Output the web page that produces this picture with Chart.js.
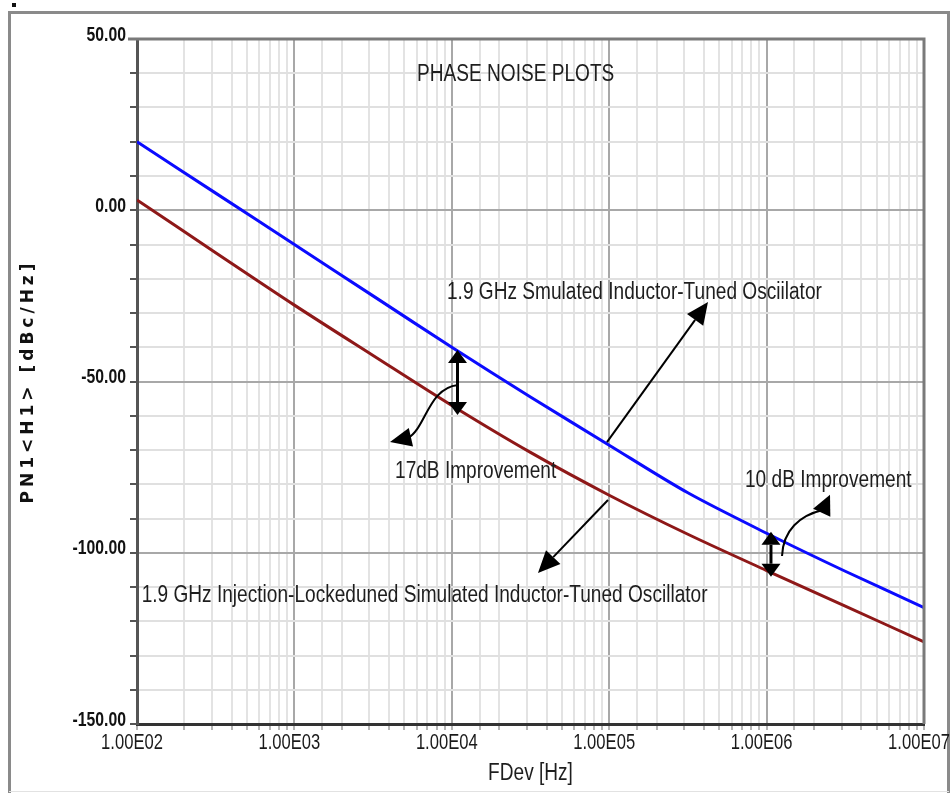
<!DOCTYPE html>
<html><head><meta charset="utf-8">
<script src="https://cdn.jsdelivr.net/npm/chart.js@4.4.1/dist/chart.umd.min.js"></script>
<style>html,body{margin:0;padding:0;background:#fff;}#wrap{width:952px;height:793px;position:relative;}</style>
</head><body><div id="wrap"><canvas id="c" width="952" height="793"></canvas></div>
<script>
// ---- data ----
const freqHz = [1e2, 3.16e2, 1e3, 3.16e3, 1e4, 3.16e4, 1e5, 3.16e5, 1e6, 3.16e6, 1e7];
const pnSimulated = [20, 5, -10, -25, -40, -54.5, -68.6, -82.5, -94.3, -105.4, -116];
const pnInjectionLocked = [3, -12.4, -27.7, -42.4, -57, -70.7, -83.2, -94.6, -105.2, -115.6, -126];
const xDecadeExps = [2, 3, 4, 5, 6, 7];
const xTickLabels = ['1.00E02', '1.00E03', '1.00E04', '1.00E05', '1.00E06', '1.00E07'];
const yMajorValues = [50, 0, -50, -100, -150];
const yTickLabels = ['50.00', '0.00', '-50.00', '-100.00', '-150.00'];
const chartTitle = 'PHASE NOISE PLOTS';
const xTitle = 'FDev [Hz]';
const yTitle = 'PN1<H1> [dBc/Hz]';

// annotations, placed in data units (Hz, dBc/Hz)
const noteTexts = [
  {text: chartTitle, x: 6010, y: 39.8},
  {text: '1.9 GHz Smulated Inductor-Tuned Osciilator', x: 9322, y: -23.9},
  {text: '17dB Improvement', x: 4357, y: -76.3},
  {text: '10 dB Improvement', x: 7.29e5, y: -78.8},
  {text: '1.9 GHz Injection-Lockeduned Simulated Inductor-Tuned Oscillator', x: 107, y: -112.3}
];
const doubleArrows = [
  {x: 1.087e4, yTop: -40.8, yBottom: -59.8},
  {x: 1.066e6, yTop: -93.9, yBottom: -107.0}
];
const straightArrows = [
  {from: [9.68e4, -67.7], to: [4.243e5, -26.8]},
  {from: [9.827e4, -84.6], to: [3.528e4, -105.9]}
];
const curvedArrows = [
  {pts: [[1.095e4, -51.0], [7062, -51.9], [6857, -63.6], [5268, -66.5]], tip: [4050, -67.7]},
  {pts: [[1.253e6, -100.95], [1.271e6, -93.4], [1.630e6, -89.0], [2.282e6, -87.5]], tip: [2.528e6, -83.1]}
];

// narrow text: Liberation Sans drawn horizontally condensed (Arial-Narrow look)
const NARROW = '"Liberation Sans", Arial, sans-serif';
const SQUEEZE_X = 0.83, STRETCH_Y = 1.08;
const origFillText = CanvasRenderingContext2D.prototype.fillText;
let squeeze = null;
CanvasRenderingContext2D.prototype.fillText = function (t, x, y, mw) {
  if (!squeeze) return mw === undefined ? origFillText.call(this, t, x, y) : origFillText.call(this, t, x, y, mw);
  this.save();
  this.translate(x, y);
  this.scale(squeeze[0], squeeze[1]);
  origFillText.call(this, t, 0, 0);
  this.restore();
};

const isDecade = v => Math.abs(Math.log10(v) - Math.round(Math.log10(v))) < 1e-6;

function head(ctx, tip, from, len, wid) {
  const dx = tip.x - from.x, dy = tip.y - from.y, d = Math.hypot(dx, dy);
  const ux = dx / d, uy = dy / d;
  const bx = tip.x - ux * len, by = tip.y - uy * len;
  ctx.beginPath();
  ctx.moveTo(tip.x, tip.y);
  ctx.lineTo(bx - uy * wid / 2, by + ux * wid / 2);
  ctx.lineTo(bx + uy * wid / 2, by - ux * wid / 2);
  ctx.closePath();
  ctx.fill();
  return {x: bx, y: by};
}

const decorPlugin = {
  id: 'decor',
  beforeDraw(chart) {
    const ctx = chart.ctx;
    ctx.save();
    ctx.fillStyle = '#fff';
    ctx.fillRect(0, 0, chart.width, chart.height);
    ctx.strokeStyle = '#8a8a8a';
    ctx.lineWidth = 3;
    ctx.beginPath();
    ctx.moveTo(9.5, 793); ctx.lineTo(9.5, 12.5); ctx.lineTo(948.5, 12.5); ctx.lineTo(948.5, 793);
    ctx.stroke();
    ctx.strokeStyle = '#e2e2e2'; ctx.lineWidth = 1;
    ctx.beginPath(); ctx.moveTo(9, 791.5); ctx.lineTo(949, 791.5); ctx.stroke();
    ctx.fillStyle = '#111';
    ctx.fillRect(12, 3, 4, 4);
    ctx.restore();
    squeeze = [SQUEEZE_X, STRETCH_Y];   // condensed tick labels
  },
  beforeDatasetsDraw() { squeeze = null; },
  afterDatasetsDraw(chart) {
    const ctx = chart.ctx, a = chart.chartArea;
    ctx.save();
    ctx.strokeStyle = '#7a7a7a';
    ctx.lineWidth = 3;
    ctx.beginPath();
    ctx.moveTo(a.left - 9, a.top); ctx.lineTo(a.right, a.top); ctx.lineTo(a.right, a.bottom);
    ctx.stroke();
    ctx.restore();
  },
  afterDraw(chart) {
    const ctx = chart.ctx, xs = chart.scales.x, ys = chart.scales.y;
    const P = (x, y) => ({x: xs.getPixelForValue(x), y: ys.getPixelForValue(y)});
    ctx.save();
    // annotation texts
    squeeze = [SQUEEZE_X, STRETCH_Y];
    ctx.fillStyle = '#1e1e1e';
    ctx.font = '23px ' + NARROW;
    ctx.textBaseline = 'middle';
    ctx.textAlign = 'left';
    noteTexts.forEach(n => {
      const p = P(n.x, n.y);
      ctx.fillText(n.text, p.x, p.y);
    });
    // x axis title
    ctx.textAlign = 'center';
    ctx.fillText(xTitle, (chart.chartArea.left + chart.chartArea.right) / 2, 773);
    squeeze = null;
    // arrows
    ctx.strokeStyle = '#000';
    ctx.fillStyle = '#000';
    doubleArrows.forEach(d => {
      const t = P(d.x, d.yTop), b = P(d.x, d.yBottom);
      const tb = head(ctx, t, b, 13, 19);
      const bb = head(ctx, b, t, 13, 19);
      ctx.lineWidth = 3;
      ctx.beginPath(); ctx.moveTo(tb.x, tb.y); ctx.lineTo(bb.x, bb.y); ctx.stroke();
    });
    straightArrows.forEach(s => {
      const f = P(s.from[0], s.from[1]), t = P(s.to[0], s.to[1]);
      const hb = head(ctx, t, f, 22, 20);
      ctx.lineWidth = 2;
      ctx.beginPath(); ctx.moveTo(f.x, f.y); ctx.lineTo(hb.x, hb.y); ctx.stroke();
    });
    curvedArrows.forEach(c => {
      const q = c.pts.map(p => P(p[0], p[1]));
      const t = P(c.tip[0], c.tip[1]);
      ctx.lineWidth = 2;
      ctx.beginPath();
      ctx.moveTo(q[0].x, q[0].y);
      ctx.bezierCurveTo(q[1].x, q[1].y, q[2].x, q[2].y, q[3].x, q[3].y);
      ctx.stroke();
      const L = Math.hypot(t.x - q[3].x, t.y - q[3].y) + 3;
      head(ctx, t, q[3], L, 19);
    });
    // y axis title (letter-spaced, bold)
    ctx.save();
    ctx.translate(29, (chart.chartArea.top + chart.chartArea.bottom) / 2);
    ctx.rotate(-Math.PI / 2);
    ctx.font = 'bold 17px "DejaVu Sans", sans-serif';
    try { ctx.letterSpacing = '4px'; } catch (e) {}
    ctx.textAlign = 'center';
    ctx.textBaseline = 'middle';
    ctx.fillStyle = '#111';
    ctx.fillText(yTitle, 0, 0);
    ctx.restore();
    ctx.restore();
  }
};

new Chart(document.getElementById('c').getContext('2d'), {
  type: 'line',
  data: {
    datasets: [
      {label: 'Simulated Inductor-Tuned Oscillator', data: freqHz.map((f, i) => ({x: f, y: pnSimulated[i]})),
       borderColor: '#0b0bff', borderWidth: 3, pointRadius: 0, tension: 0.3, fill: false},
      {label: 'Injection-Locked Oscillator', data: freqHz.map((f, i) => ({x: f, y: pnInjectionLocked[i]})),
       borderColor: '#8e1818', borderWidth: 3, pointRadius: 0, tension: 0.3, fill: false}
    ]
  },
  options: {
    responsive: false,
    animation: false,
    layout: {padding: {left: 0, top: 39, right: 28, bottom: 0}},
    plugins: {legend: {display: false}, tooltip: {enabled: false}, title: {display: false}},
    scales: {
      x: {
        type: 'logarithmic', min: 100, max: 1e7,
        afterFit(s) { s.height = 69; s.paddingLeft = 0; s.paddingRight = 0; },
        border: {color: '#333', width: 3},
        grid: {color: c => (c.tick && isDecade(c.tick.value)) ? '#a8a8a8' : '#e3e3e3', lineWidth: 2, tickLength: 6, tickColor: '#b5b5b5'},
        ticks: {
          autoSkip: false, maxRotation: 0, minRotation: 0, labelOffset: -5, padding: 1, color: '#1a1a1a',
          font: {family: NARROW, size: 20},
          callback: v => {
            if (!isDecade(v)) return '';
            const i = xDecadeExps.indexOf(Math.round(Math.log10(v)));
            return i >= 0 ? xTickLabels[i] : '';
          }
        }
      },
      y: {
        min: -150, max: 50,
        afterFit(s) { s.width = 137; s.paddingTop = 0; s.paddingBottom = 0; },
        border: {color: '#555', width: 3},
        grid: {color: c => (c.tick && c.tick.value % 50 === 0) ? '#a8a8a8' : '#e0e0e0', lineWidth: 2, tickLength: 7, tickColor: '#555'},
        ticks: {
          stepSize: 10, autoSkip: false, labelOffset: -4, padding: 4, color: '#111',
          font: {family: NARROW, size: 19, weight: 'bold'},
          callback: v => {
            const i = yMajorValues.indexOf(v);
            return i >= 0 ? yTickLabels[i] : '';
          }
        }
      }
    }
  },
  plugins: [decorPlugin]
});
</script>
</body></html>
